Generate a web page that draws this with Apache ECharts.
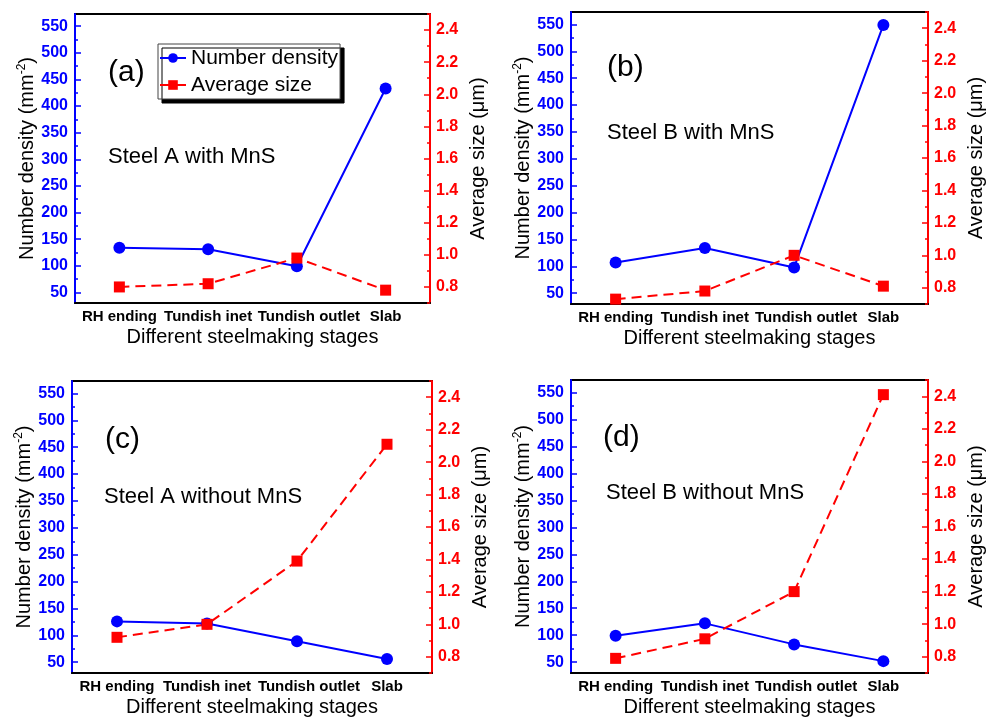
<!DOCTYPE html>
<html>
<head>
<meta charset="utf-8">
<script src="https://cdn.jsdelivr.net/npm/echarts@6/dist/echarts.min.js"></script>
<style>
  html, body { margin: 0; padding: 0; background: #fff; }
  #chart { width: 987px; height: 718px; }
</style>
</head>
<body>
<div id="chart"></div>
<script>
// stages on the x axis (same for all four panels)
const stages = ['RH ending', 'Tundish inet', 'Tundish outlet', 'Slab'];

// number density (mm^-2)
const densityA_MnS = [134, 131, 99, 433];
const densityB_MnS = [107, 134, 98, 549];
const densityA_noMnS = [126, 122, 89, 56];
const densityB_noMnS = [99, 122, 83, 52];

// average size (um)
const sizeA_MnS = [0.80, 0.82, 0.98, 0.78];
const sizeB_MnS = [0.73, 0.78, 1.00, 0.81];
const sizeA_noMnS = [0.92, 1.00, 1.39, 2.11];
const sizeB_noMnS = [0.79, 0.91, 1.20, 2.41];

// tick values
const densityTicks = [50, 100, 150, 200, 250, 300, 350, 400, 450, 500, 550];
const densityMinor = [75, 125, 175, 225, 275, 325, 375, 425, 475, 525];
const sizeTicks = [0.8, 1.0, 1.2, 1.4, 1.6, 1.8, 2.0, 2.2, 2.4];
const sizeMinor = [0.7, 0.9, 1.1, 1.3, 1.5, 1.7, 1.9, 2.1, 2.3, 2.5];

const panelTags = ['(a)', '(b)', '(c)', '(d)'];
const panelNames = ['Steel A with MnS', 'Steel B with MnS', 'Steel A without MnS', 'Steel B without MnS'];

const FONT = '"Liberation Sans", Arial, sans-serif';
const BLUE = '#0000ff';
const RED = '#ff0000';

// layout of the four plot frames
const grids = [
    { left: 75, top: 14, width: 355, height: 289 },
    { left: 571, top: 12, width: 361, height: 292 },
    { left: 72, top: 381, width: 360, height: 292 },
    { left: 571, top: 380, width: 362, height: 294 }
];
const tagPos = [[108, 73], [607, 68], [105, 440], [603, 438]];
const namePos = [[108, 157], [607, 133], [104, 497], [606, 493]];

const densities = [densityA_MnS, densityB_MnS, densityA_noMnS, densityB_noMnS];
const sizes = [sizeA_MnS, sizeB_MnS, sizeA_noMnS, sizeB_noMnS];

const option = {
    animation: false,
    backgroundColor: '#fff',
    textStyle: { fontFamily: FONT },
    grid: [],
    xAxis: [],
    yAxis: [],
    series: [],
    graphic: [],
    legend: {
        left: 158,
        top: 44,
        orient: 'vertical',
        data: ['Number density', 'Average size'],
        itemWidth: 26,
        itemHeight: 12,
        itemGap: 3,
        padding: [2, 2, 2, 1],
        backgroundColor: '#fff',
        borderColor: '#444',
        borderWidth: 1,
        shadowColor: '#000',
        shadowBlur: 0,
        shadowOffsetX: 4,
        shadowOffsetY: 4,
        textStyle: { fontSize: 21, color: '#000', fontFamily: FONT, lineHeight: 24 }
    }
};

for (let i = 0; i < 4; i++) {
    const g = grids[i];
    option.grid.push({
        left: g.left, top: g.top, width: g.width, height: g.height,
        show: true, borderColor: '#000', borderWidth: 2, backgroundColor: 'transparent'
    });

    option.xAxis.push({
        gridIndex: i,
        type: 'category',
        data: stages,
        boundaryGap: true,
        axisLine: { lineStyle: { color: '#000', width: 2 } },
        axisTick: { inside: true, alignWithLabel: true, length: 5, lineStyle: { color: '#000', width: 1.5 } },
        axisLabel: {
            interval: 0, color: '#000', fontWeight: 'bold', fontSize: 15, margin: 6, fontFamily: FONT,
            // the outlet label sits a little right of its tick in the original
            formatter: v => v === 'Tundish outlet' ? '{o|' + v + '}' : v,
            rich: { o: { fontWeight: 'bold', fontSize: 15, fontFamily: FONT, color: '#000', padding: [0, 0, 0, 24] } }
        },
        splitLine: { show: false },
        name: 'Different steelmaking stages',
        nameLocation: 'middle',
        nameGap: 24,
        nameTextStyle: { fontSize: 20, color: '#000', fontFamily: FONT }
    });

    // left: number density
    option.yAxis.push({
        gridIndex: i,
        type: 'value',
        position: 'left',
        min: 30, max: 573,
        axisLine: { show: true, lineStyle: { color: BLUE, width: 2 } },
        axisTick: { show: true, inside: true, length: 6, customValues: densityTicks, lineStyle: { color: BLUE, width: 1.5 } },
        axisLabel: { customValues: densityTicks, color: BLUE, fontWeight: 'bold', fontSize: 16, margin: 7, fontFamily: FONT },
        splitLine: { show: false },
        name: '{a|Number density (mm}{s|-2}{a|)}',
        nameLocation: 'middle',
        nameRotate: 90,
        nameGap: 37,
        nameTextStyle: {
            color: '#000',
            rich: {
                a: { fontSize: 20, fontFamily: FONT, color: '#000', lineHeight: 22 },
                s: { fontSize: 12, fontFamily: FONT, color: '#000', verticalAlign: 'top', lineHeight: 22 }
            }
        }
    });
    // right: average size
    option.yAxis.push({
        gridIndex: i,
        type: 'value',
        position: 'right',
        min: 0.7, max: 2.5,
        axisLine: { show: true, lineStyle: { color: RED, width: 2 } },
        axisTick: { show: true, inside: true, length: 6, customValues: sizeTicks, lineStyle: { color: RED, width: 1.5 } },
        axisLabel: {
            customValues: sizeTicks, color: RED, fontWeight: 'bold', fontSize: 16, margin: 6, fontFamily: FONT,
            formatter: v => v.toFixed(1)
        },
        splitLine: { show: false },
        name: 'Average size (\u03bcm)',
        nameLocation: 'middle',
        nameRotate: 90,
        nameGap: 38,
        nameTextStyle: { fontSize: 20, color: '#000', fontFamily: FONT }
    });
    // minor ticks
    option.yAxis.push({
        gridIndex: i, type: 'value', position: 'left', min: 30, max: 573,
        axisLine: { show: false },
        axisTick: { show: true, inside: true, length: 3, customValues: densityMinor, lineStyle: { color: BLUE, width: 1.5 } },
        axisLabel: { show: false },
        splitLine: { show: false }
    });
    option.yAxis.push({
        gridIndex: i, type: 'value', position: 'right', min: 0.7, max: 2.5,
        axisLine: { show: false },
        axisTick: { show: true, inside: true, length: 3, customValues: sizeMinor, lineStyle: { color: RED, width: 1.5 } },
        axisLabel: { show: false },
        splitLine: { show: false }
    });

    option.series.push({
        name: 'Number density',
        type: 'line',
        xAxisIndex: i,
        yAxisIndex: 4 * i,
        data: densities[i],
        symbol: 'circle',
        symbolSize: 12,
        itemStyle: { color: BLUE },
        lineStyle: { color: BLUE, width: 2 }
    });
    option.series.push({
        name: 'Average size',
        type: 'line',
        xAxisIndex: i,
        yAxisIndex: 4 * i + 1,
        data: sizes[i],
        symbol: 'rect',
        symbolSize: 11,
        itemStyle: { color: RED },
        lineStyle: { color: RED, width: 2, type: [10, 6] }
    });

    option.graphic.push({
        type: 'text', x: tagPos[i][0], y: tagPos[i][1],
        style: { text: panelTags[i], fontSize: 30, fontFamily: FONT, fill: '#000', verticalAlign: 'middle' }
    });
    option.graphic.push({
        type: 'text', x: namePos[i][0], y: namePos[i][1],
        style: { text: panelNames[i], fontSize: 22, fontFamily: FONT, fill: '#000', verticalAlign: 'middle' }
    });
}

const chart = echarts.init(document.getElementById('chart'));
chart.setOption(option);
</script>
</body>
</html>
